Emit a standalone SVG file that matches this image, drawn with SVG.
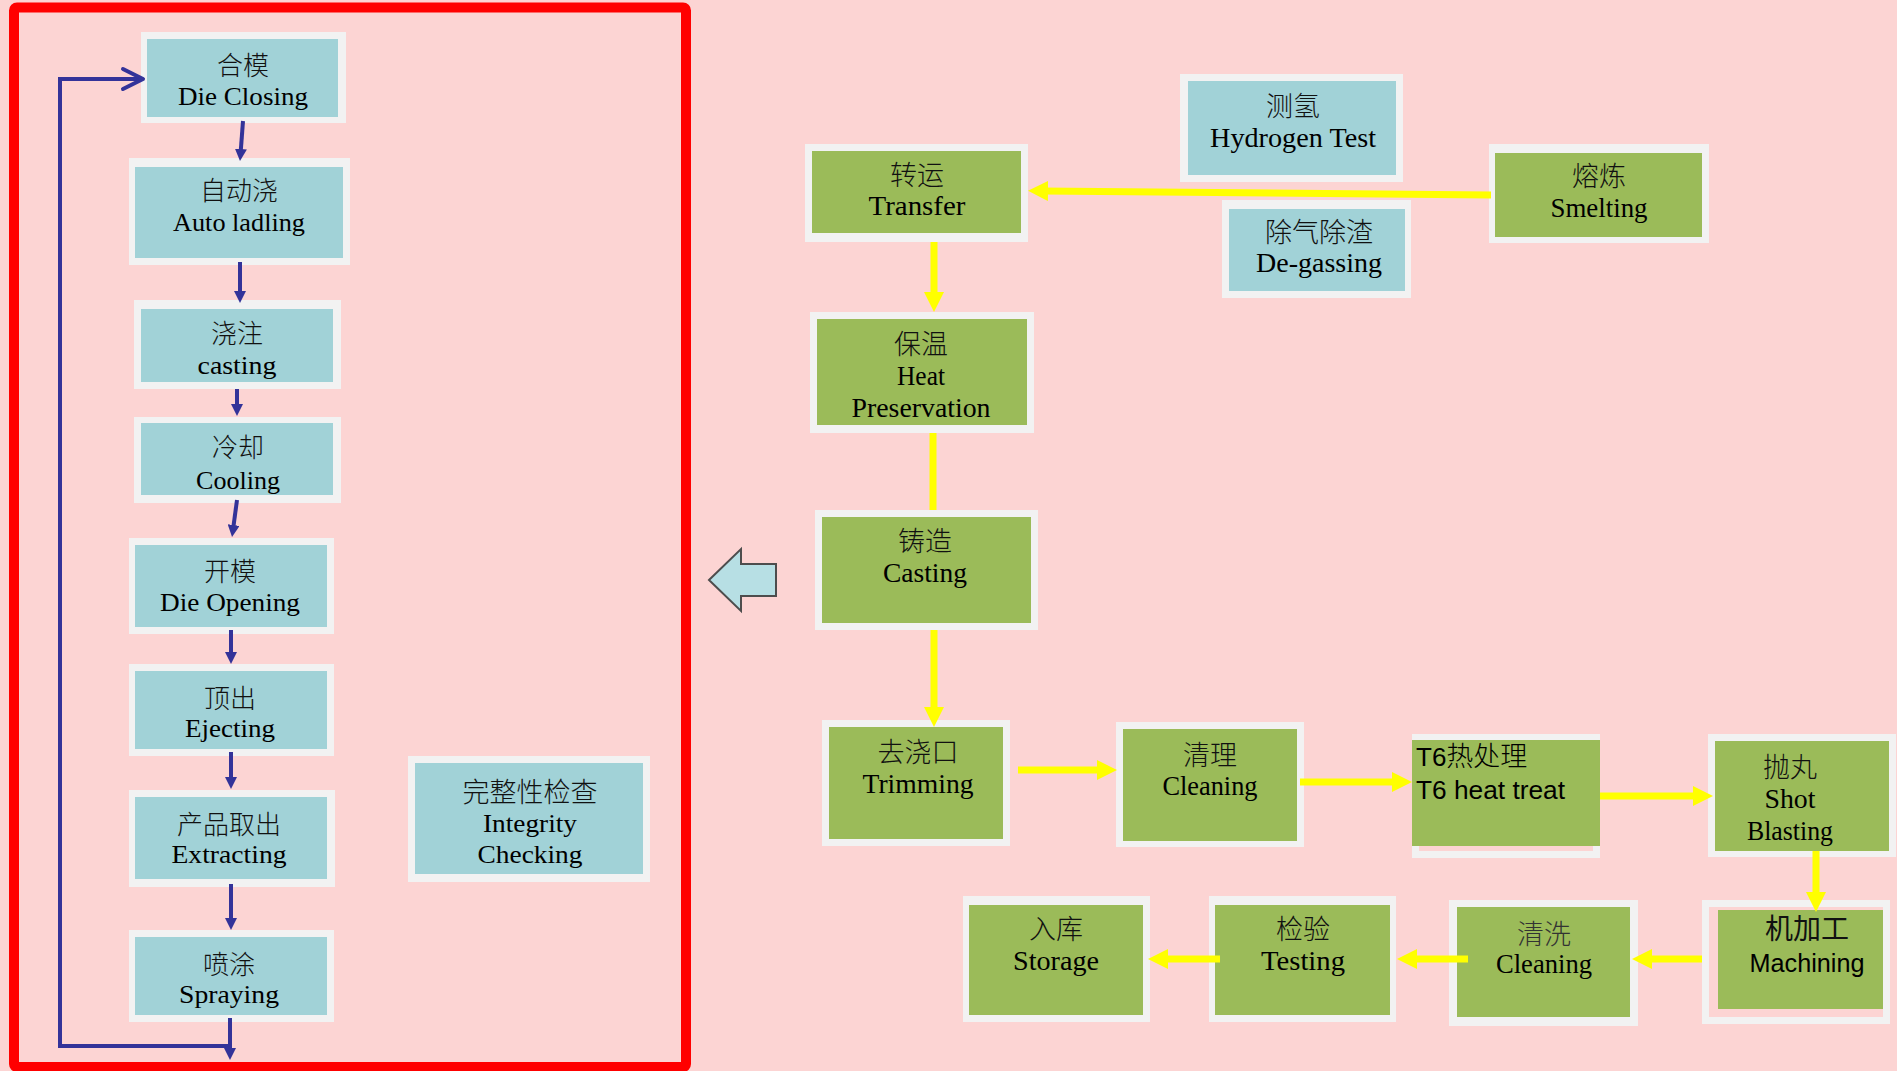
<svg xmlns="http://www.w3.org/2000/svg" width="1897" height="1071" viewBox="0 0 1897 1071">
<style>
.bg{fill:#FCD4D3}
.frame{fill:none;stroke:#FF0000;stroke-width:10}
.outer{fill:#F2F2F2}
.teal{fill:#A1D2D7}
.green{fill:#9BBB59}
.pinkin{fill:#FCD4D3}
.cn{font-family:"Noto Sans CJK SC",sans-serif;font-weight:300;font-size:27px;text-anchor:middle;fill:#111}
.cnl{font-size:26px}
.en{font-family:"Liberation Serif","Noto Sans CJK SC",serif;font-size:27px;text-anchor:middle;fill:#000}
.enl{font-size:25px}
.sans{font-family:"Liberation Sans","Noto Sans CJK SC",sans-serif;font-size:26px;fill:#000}
.blue{fill:none;stroke:#333399;stroke-width:4}
.yel{fill:none;stroke:#FFFF00;stroke-width:7}
.bigarrow{fill:#B7DFE4;stroke:#4D4D4D;stroke-width:2}
</style>
<defs>
<marker id="mb" markerUnits="userSpaceOnUse" markerWidth="12" markerHeight="12" refX="4" refY="6" orient="auto"><path d="M0,0 L12,6 L0,12 z" fill="#333399"/></marker>
<marker id="my" markerUnits="userSpaceOnUse" markerWidth="20" markerHeight="20" refX="5" refY="10" orient="auto"><path d="M0,0 L20,10 L0,20 z" fill="#FFFF00"/></marker>
</defs>
<rect class="bg" x="0" y="0" width="1897" height="1071"/>
<rect class="frame" x="14" y="7.5" width="672" height="1059.5" rx="3"/>

<g id="die-closing">
<rect class="outer" x="141" y="32" width="205" height="91"/>
<rect class="teal" x="147" y="39" width="191" height="78"/>
<text class="cn cnl" x="243" y="75">合模</text>
<text class="en enl" x="243" y="105" textLength="130" lengthAdjust="spacingAndGlyphs">Die Closing</text>
</g>
<g id="auto-ladling">
<rect class="outer" x="129" y="158" width="221" height="107"/>
<rect class="teal" x="135" y="167" width="208" height="91"/>
<text class="cn cnl" x="239" y="200">自动浇</text>
<text class="en enl" x="239" y="231" textLength="132" lengthAdjust="spacingAndGlyphs">Auto ladling</text>
</g>
<g id="casting-left">
<rect class="outer" x="134" y="300" width="207" height="89"/>
<rect class="teal" x="141" y="309" width="192" height="73"/>
<text class="cn cnl" x="237" y="343">浇注</text>
<text class="en enl" x="237" y="374" textLength="79" lengthAdjust="spacingAndGlyphs">casting</text>
</g>
<g id="cooling">
<rect class="outer" x="134" y="417" width="207" height="86"/>
<rect class="teal" x="141" y="423" width="192" height="72"/>
<text class="cn cnl" x="238" y="457">冷却</text>
<text class="en enl" x="238" y="489" textLength="84" lengthAdjust="spacingAndGlyphs">Cooling</text>
</g>
<g id="die-opening">
<rect class="outer" x="129" y="538" width="205" height="96"/>
<rect class="teal" x="135" y="545" width="192" height="82"/>
<text class="cn cnl" x="230" y="581">开模</text>
<text class="en enl" x="230" y="611" textLength="140" lengthAdjust="spacingAndGlyphs">Die Opening</text>
</g>
<g id="ejecting">
<rect class="outer" x="129" y="664" width="205" height="92"/>
<rect class="teal" x="135" y="671" width="192" height="78"/>
<text class="cn cnl" x="230" y="708">顶出</text>
<text class="en enl" x="230" y="737" textLength="90" lengthAdjust="spacingAndGlyphs">Ejecting</text>
</g>
<g id="extracting">
<rect class="outer" x="129" y="790" width="206" height="97"/>
<rect class="teal" x="135" y="797" width="192" height="82"/>
<text class="cn cnl" x="229" y="834">产品取出</text>
<text class="en enl" x="229" y="863" textLength="115" lengthAdjust="spacingAndGlyphs">Extracting</text>
</g>
<g id="spraying">
<rect class="outer" x="129" y="930" width="205" height="92"/>
<rect class="teal" x="135" y="937" width="192" height="78"/>
<text class="cn cnl" x="229" y="974">喷涂</text>
<text class="en enl" x="229" y="1003" textLength="100" lengthAdjust="spacingAndGlyphs">Spraying</text>
</g>
<g id="integrity-checking">
<rect class="outer" x="408" y="756" width="242" height="126"/>
<rect class="teal" x="415" y="763" width="228" height="111"/>
<text class="cn" x="530" y="802">完整性检查</text>
<text class="en enl" x="530" y="832" textLength="94" lengthAdjust="spacingAndGlyphs">Integrity</text>
<text class="en enl" x="530" y="863" textLength="105" lengthAdjust="spacingAndGlyphs">Checking</text>
</g>

<g id="expand-arrow">
<polygon class="bigarrow" points="709,580 741,549 741,564 776,564 776,596 741,596 741,611"/>
</g>

<g id="transfer">
<rect class="outer" x="805" y="144" width="223" height="98"/>
<rect class="green" x="812" y="151" width="209" height="82"/>
<text class="cn" x="917" y="185">转运</text>
<text class="en" x="917" y="215" textLength="97" lengthAdjust="spacingAndGlyphs">Transfer</text>
</g>
<g id="hydrogen-test">
<rect class="outer" x="1180" y="74" width="223" height="108"/>
<rect class="teal" x="1188" y="81" width="208" height="94"/>
<text class="cn" x="1293" y="116">测氢</text>
<text class="en" x="1293" y="147" textLength="166" lengthAdjust="spacingAndGlyphs">Hydrogen Test</text>
</g>
<g id="degassing">
<rect class="outer" x="1222" y="200" width="189" height="98"/>
<rect class="teal" x="1229" y="209" width="176" height="82"/>
<text class="cn" x="1319" y="242">除气除渣</text>
<text class="en" x="1319" y="272" textLength="126" lengthAdjust="spacingAndGlyphs">De-gassing</text>
</g>
<g id="smelting">
<rect class="outer" x="1489" y="144" width="220" height="99"/>
<rect class="green" x="1495" y="153" width="207" height="84"/>
<text class="cn" x="1599" y="186">熔炼</text>
<text class="en" x="1599" y="217" textLength="97" lengthAdjust="spacingAndGlyphs">Smelting</text>
</g>
<g id="heat-preservation">
<rect class="outer" x="810" y="312" width="224" height="121"/>
<rect class="green" x="817" y="319" width="210" height="106"/>
<text class="cn" x="921" y="354">保温</text>
<text class="en" x="921" y="385" textLength="48" lengthAdjust="spacingAndGlyphs">Heat</text>
<text class="en" x="921" y="417" textLength="139" lengthAdjust="spacingAndGlyphs">Preservation</text>
</g>
<g id="casting">
<rect class="outer" x="815" y="510" width="223" height="120"/>
<rect class="green" x="822" y="517" width="209" height="106"/>
<text class="cn" x="925" y="551">铸造</text>
<text class="en" x="925" y="582" textLength="84" lengthAdjust="spacingAndGlyphs">Casting</text>
</g>
<g id="trimming">
<rect class="outer" x="822" y="720" width="188" height="126"/>
<rect class="green" x="829" y="727" width="174" height="112"/>
<text class="cn" x="918" y="762">去浇口</text>
<text class="en" x="918" y="793" textLength="111" lengthAdjust="spacingAndGlyphs">Trimming</text>
</g>
<g id="cleaning-1">
<rect class="outer" x="1116" y="722" width="188" height="125"/>
<rect class="green" x="1123" y="729" width="174" height="112"/>
<text class="cn" x="1210" y="765">清理</text>
<text class="en" x="1210" y="795" textLength="95" lengthAdjust="spacingAndGlyphs">Cleaning</text>
</g>
<g id="t6-heat-treat">
<rect class="outer" x="1412" y="734" width="188" height="124"/>
<rect class="green" x="1412" y="740" width="188" height="106"/>
<rect class="pinkin" x="1419" y="846" width="174" height="5"/>
<text class="sans" x="1416" y="766">T6<tspan style="font-family:'Noto Sans CJK SC',sans-serif;font-weight:300;font-size:27px">热处理</tspan></text>
<text class="sans" x="1416" y="799" textLength="149" lengthAdjust="spacingAndGlyphs">T6 heat treat</text>
</g>
<g id="shot-blasting">
<rect class="outer" x="1708" y="734" width="188" height="123"/>
<rect class="green" x="1715" y="741" width="174" height="110"/>
<text class="cn" x="1790" y="777">抛丸</text>
<text class="en" x="1790" y="808" textLength="51" lengthAdjust="spacingAndGlyphs">Shot</text>
<text class="en" x="1790" y="840" textLength="86" lengthAdjust="spacingAndGlyphs">Blasting</text>
</g>
<g id="machining">
<rect class="outer" x="1702" y="900" width="188" height="124"/>
<rect class="pinkin" x="1709" y="907" width="174" height="110"/>
<rect class="green" x="1718" y="910" width="165" height="99"/>
<text class="cn" x="1807" y="939" style="font-weight:400;font-size:28px">机加工</text>
<text class="sans" x="1807" y="972" text-anchor="middle" style="font-size:25px" textLength="115" lengthAdjust="spacingAndGlyphs">Machining</text>
</g>
<g id="cleaning-2">
<rect class="outer" x="1449" y="900" width="189" height="126"/>
<rect class="green" x="1457" y="907" width="173" height="110"/>
<text class="cn" x="1544" y="944" style="fill:#333">清洗</text>
<text class="en" x="1544" y="973" textLength="96" lengthAdjust="spacingAndGlyphs">Cleaning</text>
</g>
<g id="testing">
<rect class="outer" x="1209" y="896" width="187" height="126"/>
<rect class="green" x="1215" y="905" width="175" height="110"/>
<text class="cn" x="1303" y="939">检验</text>
<text class="en" x="1303" y="970" textLength="84" lengthAdjust="spacingAndGlyphs">Testing</text>
</g>
<g id="storage">
<rect class="outer" x="963" y="896" width="187" height="126"/>
<rect class="green" x="969" y="905" width="174" height="110"/>
<text class="cn" x="1056" y="939">入库</text>
<text class="en" x="1056" y="970" textLength="86" lengthAdjust="spacingAndGlyphs">Storage</text>
</g>

<g id="connectors">
<line class="blue" x1="243" y1="121" x2="240.6" y2="153" marker-end="url(#mb)"/>
<line class="blue" x1="240" y1="262" x2="240" y2="295" marker-end="url(#mb)"/>
<line class="blue" x1="237" y1="389" x2="237" y2="408" marker-end="url(#mb)"/>
<line class="blue" x1="237" y1="500" x2="233.1" y2="529" marker-end="url(#mb)"/>
<line class="blue" x1="231" y1="630" x2="231" y2="656" marker-end="url(#mb)"/>
<line class="blue" x1="231" y1="752" x2="231" y2="781" marker-end="url(#mb)"/>
<line class="blue" x1="231" y1="884" x2="231" y2="922" marker-end="url(#mb)"/>
<line class="blue" x1="230" y1="1018" x2="230" y2="1052" marker-end="url(#mb)"/>
<path class="blue" d="M230,1046 H60 V79 H141"/>
<path class="blue" d="M123,69 L143,79 L123,89" stroke-linejoin="round" stroke-linecap="round"/>

<path class="yel" d="M1491,195 L1043,191" marker-end="url(#my)"/>
<path class="yel" d="M934,242 V297" marker-end="url(#my)"/>
<path class="yel" d="M933,433 V510"/>
<path class="yel" d="M934,630 V712" marker-end="url(#my)"/>
<path class="yel" d="M1018,770 H1102" marker-end="url(#my)"/>
<path class="yel" d="M1300,782 H1397" marker-end="url(#my)"/>
<path class="yel" d="M1600,796 H1698" marker-end="url(#my)"/>
<path class="yel" d="M1816,851 V897" marker-end="url(#my)"/>
<path class="yel" d="M1702,959 H1647" marker-end="url(#my)"/>
<path class="yel" d="M1468,959 H1412" marker-end="url(#my)"/>
<path class="yel" d="M1220,959 H1163" marker-end="url(#my)"/>
</g>
</svg>
